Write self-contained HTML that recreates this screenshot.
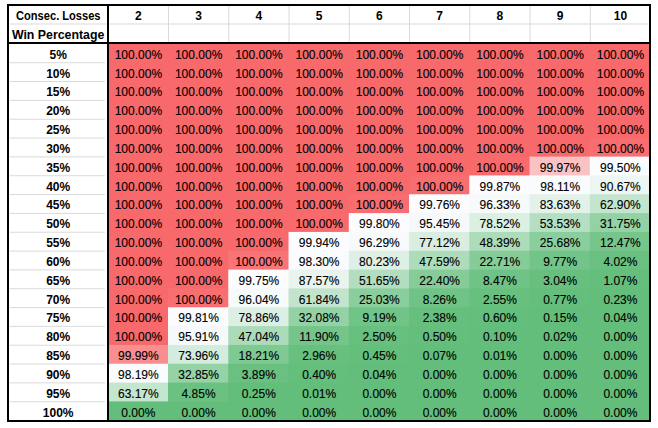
<!DOCTYPE html><html><head><meta charset="utf-8"><style>html,body{margin:0;padding:0;background:#fff;width:658px;height:428px;overflow:hidden}svg{display:block}text{font-family:"Liberation Sans",sans-serif}</style></head><body>
<svg width="658" height="428" viewBox="0 0 658 428">
<rect x="0" y="0" width="658" height="428" fill="#fff"/>
<rect x="107.74" y="43.60" width="61.26" height="19.83" fill="#F8696B"/>
<rect x="168.00" y="43.60" width="61.26" height="19.83" fill="#F8696B"/>
<rect x="228.26" y="43.60" width="61.26" height="19.83" fill="#F8696B"/>
<rect x="288.52" y="43.60" width="61.26" height="19.83" fill="#F8696B"/>
<rect x="348.78" y="43.60" width="61.26" height="19.83" fill="#F8696B"/>
<rect x="409.04" y="43.60" width="61.26" height="19.83" fill="#F8696B"/>
<rect x="469.30" y="43.60" width="61.26" height="19.83" fill="#F8696B"/>
<rect x="529.56" y="43.60" width="61.26" height="19.83" fill="#F8696B"/>
<rect x="589.82" y="43.60" width="60.26" height="19.83" fill="#F8696B"/>
<rect x="107.74" y="62.43" width="61.26" height="19.83" fill="#F8696B"/>
<rect x="168.00" y="62.43" width="61.26" height="19.83" fill="#F8696B"/>
<rect x="228.26" y="62.43" width="61.26" height="19.83" fill="#F8696B"/>
<rect x="288.52" y="62.43" width="61.26" height="19.83" fill="#F8696B"/>
<rect x="348.78" y="62.43" width="61.26" height="19.83" fill="#F8696B"/>
<rect x="409.04" y="62.43" width="61.26" height="19.83" fill="#F8696B"/>
<rect x="469.30" y="62.43" width="61.26" height="19.83" fill="#F8696B"/>
<rect x="529.56" y="62.43" width="61.26" height="19.83" fill="#F8696B"/>
<rect x="589.82" y="62.43" width="60.26" height="19.83" fill="#F8696B"/>
<rect x="107.74" y="81.27" width="61.26" height="19.83" fill="#F8696B"/>
<rect x="168.00" y="81.27" width="61.26" height="19.83" fill="#F8696B"/>
<rect x="228.26" y="81.27" width="61.26" height="19.83" fill="#F8696B"/>
<rect x="288.52" y="81.27" width="61.26" height="19.83" fill="#F8696B"/>
<rect x="348.78" y="81.27" width="61.26" height="19.83" fill="#F8696B"/>
<rect x="409.04" y="81.27" width="61.26" height="19.83" fill="#F8696B"/>
<rect x="469.30" y="81.27" width="61.26" height="19.83" fill="#F8696B"/>
<rect x="529.56" y="81.27" width="61.26" height="19.83" fill="#F8696B"/>
<rect x="589.82" y="81.27" width="60.26" height="19.83" fill="#F8696B"/>
<rect x="107.74" y="100.10" width="61.26" height="19.83" fill="#F8696B"/>
<rect x="168.00" y="100.10" width="61.26" height="19.83" fill="#F8696B"/>
<rect x="228.26" y="100.10" width="61.26" height="19.83" fill="#F8696B"/>
<rect x="288.52" y="100.10" width="61.26" height="19.83" fill="#F8696B"/>
<rect x="348.78" y="100.10" width="61.26" height="19.83" fill="#F8696B"/>
<rect x="409.04" y="100.10" width="61.26" height="19.83" fill="#F8696B"/>
<rect x="469.30" y="100.10" width="61.26" height="19.83" fill="#F8696B"/>
<rect x="529.56" y="100.10" width="61.26" height="19.83" fill="#F8696B"/>
<rect x="589.82" y="100.10" width="60.26" height="19.83" fill="#F8696B"/>
<rect x="107.74" y="118.93" width="61.26" height="19.83" fill="#F8696B"/>
<rect x="168.00" y="118.93" width="61.26" height="19.83" fill="#F8696B"/>
<rect x="228.26" y="118.93" width="61.26" height="19.83" fill="#F8696B"/>
<rect x="288.52" y="118.93" width="61.26" height="19.83" fill="#F8696B"/>
<rect x="348.78" y="118.93" width="61.26" height="19.83" fill="#F8696B"/>
<rect x="409.04" y="118.93" width="61.26" height="19.83" fill="#F8696B"/>
<rect x="469.30" y="118.93" width="61.26" height="19.83" fill="#F8696B"/>
<rect x="529.56" y="118.93" width="61.26" height="19.83" fill="#F8696B"/>
<rect x="589.82" y="118.93" width="60.26" height="19.83" fill="#F8696B"/>
<rect x="107.74" y="137.76" width="61.26" height="19.83" fill="#F8696B"/>
<rect x="168.00" y="137.76" width="61.26" height="19.83" fill="#F8696B"/>
<rect x="228.26" y="137.76" width="61.26" height="19.83" fill="#F8696B"/>
<rect x="288.52" y="137.76" width="61.26" height="19.83" fill="#F8696B"/>
<rect x="348.78" y="137.76" width="61.26" height="19.83" fill="#F8696B"/>
<rect x="409.04" y="137.76" width="61.26" height="19.83" fill="#F8696B"/>
<rect x="469.30" y="137.76" width="61.26" height="19.83" fill="#F8696B"/>
<rect x="529.56" y="137.76" width="61.26" height="19.83" fill="#F8696B"/>
<rect x="589.82" y="137.76" width="60.26" height="19.83" fill="#F86D6F"/>
<rect x="107.74" y="156.60" width="61.26" height="19.83" fill="#F8696B"/>
<rect x="168.00" y="156.60" width="61.26" height="19.83" fill="#F8696B"/>
<rect x="228.26" y="156.60" width="61.26" height="19.83" fill="#F8696B"/>
<rect x="288.52" y="156.60" width="61.26" height="19.83" fill="#F8696B"/>
<rect x="348.78" y="156.60" width="61.26" height="19.83" fill="#F8696B"/>
<rect x="409.04" y="156.60" width="61.26" height="19.83" fill="#F8696B"/>
<rect x="469.30" y="156.60" width="61.26" height="19.83" fill="#F86A6C"/>
<rect x="529.56" y="156.60" width="61.26" height="19.83" fill="#FAC2C5"/>
<rect x="589.82" y="156.60" width="60.26" height="19.83" fill="#FBFCFE"/>
<rect x="107.74" y="175.43" width="61.26" height="19.83" fill="#F8696B"/>
<rect x="168.00" y="175.43" width="61.26" height="19.83" fill="#F8696B"/>
<rect x="228.26" y="175.43" width="61.26" height="19.83" fill="#F8696B"/>
<rect x="288.52" y="175.43" width="61.26" height="19.83" fill="#F8696B"/>
<rect x="348.78" y="175.43" width="61.26" height="19.83" fill="#F8696B"/>
<rect x="409.04" y="175.43" width="61.26" height="19.83" fill="#F86E70"/>
<rect x="469.30" y="175.43" width="61.26" height="19.83" fill="#FCFCFF"/>
<rect x="529.56" y="175.43" width="61.26" height="19.83" fill="#F9FBFD"/>
<rect x="589.82" y="175.43" width="60.26" height="19.83" fill="#EEF6F3"/>
<rect x="107.74" y="194.26" width="61.26" height="19.83" fill="#F8696B"/>
<rect x="168.00" y="194.26" width="61.26" height="19.83" fill="#F8696B"/>
<rect x="228.26" y="194.26" width="61.26" height="19.83" fill="#F8696B"/>
<rect x="288.52" y="194.26" width="61.26" height="19.83" fill="#F8696B"/>
<rect x="348.78" y="194.26" width="61.26" height="19.83" fill="#F86E70"/>
<rect x="409.04" y="194.26" width="61.26" height="19.83" fill="#FCFCFF"/>
<rect x="469.30" y="194.26" width="61.26" height="19.83" fill="#F6FAFA"/>
<rect x="529.56" y="194.26" width="61.26" height="19.83" fill="#E3F2E9"/>
<rect x="589.82" y="194.26" width="60.26" height="19.83" fill="#C3E5CE"/>
<rect x="107.74" y="213.10" width="61.26" height="19.83" fill="#F8696B"/>
<rect x="168.00" y="213.10" width="61.26" height="19.83" fill="#F8696B"/>
<rect x="228.26" y="213.10" width="61.26" height="19.83" fill="#F8696B"/>
<rect x="288.52" y="213.10" width="61.26" height="19.83" fill="#F86A6C"/>
<rect x="348.78" y="213.10" width="61.26" height="19.83" fill="#FCFCFF"/>
<rect x="409.04" y="213.10" width="61.26" height="19.83" fill="#F5F9F9"/>
<rect x="469.30" y="213.10" width="61.26" height="19.83" fill="#DBEFE3"/>
<rect x="529.56" y="213.10" width="61.26" height="19.83" fill="#B5DFC2"/>
<rect x="589.82" y="213.10" width="60.26" height="19.83" fill="#94D2A5"/>
<rect x="107.74" y="231.93" width="61.26" height="19.83" fill="#F8696B"/>
<rect x="168.00" y="231.93" width="61.26" height="19.83" fill="#F8696B"/>
<rect x="228.26" y="231.93" width="61.26" height="19.83" fill="#F8696B"/>
<rect x="288.52" y="231.93" width="61.26" height="19.83" fill="#FCFCFF"/>
<rect x="348.78" y="231.93" width="61.26" height="19.83" fill="#F6FAFA"/>
<rect x="409.04" y="231.93" width="61.26" height="19.83" fill="#D9EEE1"/>
<rect x="469.30" y="231.93" width="61.26" height="19.83" fill="#ADDCBB"/>
<rect x="529.56" y="231.93" width="61.26" height="19.83" fill="#8ACE9D"/>
<rect x="589.82" y="231.93" width="60.26" height="19.83" fill="#76C68B"/>
<rect x="107.74" y="250.76" width="61.26" height="19.83" fill="#F8696B"/>
<rect x="168.00" y="250.76" width="61.26" height="19.83" fill="#F8696B"/>
<rect x="228.26" y="250.76" width="61.26" height="19.83" fill="#F87476"/>
<rect x="288.52" y="250.76" width="61.26" height="19.83" fill="#F9FBFD"/>
<rect x="348.78" y="250.76" width="61.26" height="19.83" fill="#DEF0E5"/>
<rect x="409.04" y="250.76" width="61.26" height="19.83" fill="#ACDCBA"/>
<rect x="469.30" y="250.76" width="61.26" height="19.83" fill="#86CC99"/>
<rect x="529.56" y="250.76" width="61.26" height="19.83" fill="#72C488"/>
<rect x="589.82" y="250.76" width="60.26" height="19.83" fill="#69C080"/>
<rect x="107.74" y="269.60" width="61.26" height="19.83" fill="#F8696B"/>
<rect x="168.00" y="269.60" width="61.26" height="19.83" fill="#F8696B"/>
<rect x="228.26" y="269.60" width="61.26" height="19.83" fill="#FCFCFF"/>
<rect x="288.52" y="269.60" width="61.26" height="19.83" fill="#E9F4EF"/>
<rect x="348.78" y="269.60" width="61.26" height="19.83" fill="#B2DEBF"/>
<rect x="409.04" y="269.60" width="61.26" height="19.83" fill="#85CC99"/>
<rect x="469.30" y="269.60" width="61.26" height="19.83" fill="#70C386"/>
<rect x="529.56" y="269.60" width="61.26" height="19.83" fill="#68C07F"/>
<rect x="589.82" y="269.60" width="60.26" height="19.83" fill="#65BF7C"/>
<rect x="107.74" y="288.43" width="61.26" height="19.83" fill="#F8696B"/>
<rect x="168.00" y="288.43" width="61.26" height="19.83" fill="#F86F71"/>
<rect x="228.26" y="288.43" width="61.26" height="19.83" fill="#F6FAFA"/>
<rect x="288.52" y="288.43" width="61.26" height="19.83" fill="#C2E4CD"/>
<rect x="348.78" y="288.43" width="61.26" height="19.83" fill="#89CE9C"/>
<rect x="409.04" y="288.43" width="61.26" height="19.83" fill="#70C386"/>
<rect x="469.30" y="288.43" width="61.26" height="19.83" fill="#67C07E"/>
<rect x="529.56" y="288.43" width="61.26" height="19.83" fill="#64BE7C"/>
<rect x="589.82" y="288.43" width="60.26" height="19.83" fill="#63BE7B"/>
<rect x="107.74" y="307.26" width="61.26" height="19.83" fill="#F8696B"/>
<rect x="168.00" y="307.26" width="61.26" height="19.83" fill="#FCFCFF"/>
<rect x="228.26" y="307.26" width="61.26" height="19.83" fill="#DCEFE3"/>
<rect x="288.52" y="307.26" width="61.26" height="19.83" fill="#94D2A5"/>
<rect x="348.78" y="307.26" width="61.26" height="19.83" fill="#71C487"/>
<rect x="409.04" y="307.26" width="61.26" height="19.83" fill="#67BF7E"/>
<rect x="469.30" y="307.26" width="61.26" height="19.83" fill="#64BE7C"/>
<rect x="529.56" y="307.26" width="61.26" height="19.83" fill="#63BE7B"/>
<rect x="589.82" y="307.26" width="60.26" height="19.83" fill="#63BE7B"/>
<rect x="107.74" y="326.09" width="61.26" height="19.83" fill="#F8696B"/>
<rect x="168.00" y="326.09" width="61.26" height="19.83" fill="#F6F9FA"/>
<rect x="228.26" y="326.09" width="61.26" height="19.83" fill="#ABDBB9"/>
<rect x="288.52" y="326.09" width="61.26" height="19.83" fill="#75C58B"/>
<rect x="348.78" y="326.09" width="61.26" height="19.83" fill="#67C07E"/>
<rect x="409.04" y="326.09" width="61.26" height="19.83" fill="#64BE7C"/>
<rect x="469.30" y="326.09" width="61.26" height="19.83" fill="#63BE7B"/>
<rect x="529.56" y="326.09" width="61.26" height="19.83" fill="#63BE7B"/>
<rect x="589.82" y="326.09" width="60.26" height="19.83" fill="#63BE7B"/>
<rect x="107.74" y="344.93" width="61.26" height="19.83" fill="#F98E90"/>
<rect x="168.00" y="344.93" width="61.26" height="19.83" fill="#D4ECDD"/>
<rect x="228.26" y="344.93" width="61.26" height="19.83" fill="#7FC993"/>
<rect x="288.52" y="344.93" width="61.26" height="19.83" fill="#68C07F"/>
<rect x="348.78" y="344.93" width="61.26" height="19.83" fill="#64BE7C"/>
<rect x="409.04" y="344.93" width="61.26" height="19.83" fill="#63BE7B"/>
<rect x="469.30" y="344.93" width="61.26" height="19.83" fill="#63BE7B"/>
<rect x="529.56" y="344.93" width="61.26" height="19.83" fill="#63BE7B"/>
<rect x="589.82" y="344.93" width="60.26" height="19.83" fill="#63BE7B"/>
<rect x="107.74" y="363.76" width="61.26" height="19.83" fill="#F9FBFD"/>
<rect x="168.00" y="363.76" width="61.26" height="19.83" fill="#95D2A6"/>
<rect x="228.26" y="363.76" width="61.26" height="19.83" fill="#69C080"/>
<rect x="288.52" y="363.76" width="61.26" height="19.83" fill="#64BE7C"/>
<rect x="348.78" y="363.76" width="61.26" height="19.83" fill="#63BE7B"/>
<rect x="409.04" y="363.76" width="61.26" height="19.83" fill="#63BE7B"/>
<rect x="469.30" y="363.76" width="61.26" height="19.83" fill="#63BE7B"/>
<rect x="529.56" y="363.76" width="61.26" height="19.83" fill="#63BE7B"/>
<rect x="589.82" y="363.76" width="60.26" height="19.83" fill="#63BE7B"/>
<rect x="107.74" y="382.59" width="61.26" height="19.83" fill="#C4E5CE"/>
<rect x="168.00" y="382.59" width="61.26" height="19.83" fill="#6AC181"/>
<rect x="228.26" y="382.59" width="61.26" height="19.83" fill="#63BE7B"/>
<rect x="288.52" y="382.59" width="61.26" height="19.83" fill="#63BE7B"/>
<rect x="348.78" y="382.59" width="61.26" height="19.83" fill="#63BE7B"/>
<rect x="409.04" y="382.59" width="61.26" height="19.83" fill="#63BE7B"/>
<rect x="469.30" y="382.59" width="61.26" height="19.83" fill="#63BE7B"/>
<rect x="529.56" y="382.59" width="61.26" height="19.83" fill="#63BE7B"/>
<rect x="589.82" y="382.59" width="60.26" height="19.83" fill="#63BE7B"/>
<rect x="107.74" y="401.43" width="61.26" height="18.83" fill="#63BE7B"/>
<rect x="168.00" y="401.43" width="61.26" height="18.83" fill="#63BE7B"/>
<rect x="228.26" y="401.43" width="61.26" height="18.83" fill="#63BE7B"/>
<rect x="288.52" y="401.43" width="61.26" height="18.83" fill="#63BE7B"/>
<rect x="348.78" y="401.43" width="61.26" height="18.83" fill="#63BE7B"/>
<rect x="409.04" y="401.43" width="61.26" height="18.83" fill="#63BE7B"/>
<rect x="469.30" y="401.43" width="61.26" height="18.83" fill="#63BE7B"/>
<rect x="529.56" y="401.43" width="61.26" height="18.83" fill="#63BE7B"/>
<rect x="589.82" y="401.43" width="60.26" height="18.83" fill="#63BE7B"/>
<rect x="9.6" y="62.23" width="95.2" height="1" fill="#DADADA"/>
<rect x="9.6" y="81.07" width="95.2" height="1" fill="#DADADA"/>
<rect x="9.6" y="99.90" width="95.2" height="1" fill="#DADADA"/>
<rect x="9.6" y="118.73" width="95.2" height="1" fill="#DADADA"/>
<rect x="9.6" y="137.56" width="95.2" height="1" fill="#DADADA"/>
<rect x="9.6" y="156.40" width="95.2" height="1" fill="#DADADA"/>
<rect x="9.6" y="175.23" width="95.2" height="1" fill="#DADADA"/>
<rect x="9.6" y="194.06" width="95.2" height="1" fill="#DADADA"/>
<rect x="9.6" y="212.90" width="95.2" height="1" fill="#DADADA"/>
<rect x="9.6" y="231.73" width="95.2" height="1" fill="#DADADA"/>
<rect x="9.6" y="250.56" width="95.2" height="1" fill="#DADADA"/>
<rect x="9.6" y="269.40" width="95.2" height="1" fill="#DADADA"/>
<rect x="9.6" y="288.23" width="95.2" height="1" fill="#DADADA"/>
<rect x="9.6" y="307.06" width="95.2" height="1" fill="#DADADA"/>
<rect x="9.6" y="325.89" width="95.2" height="1" fill="#DADADA"/>
<rect x="9.6" y="344.73" width="95.2" height="1" fill="#DADADA"/>
<rect x="9.6" y="363.56" width="95.2" height="1" fill="#DADADA"/>
<rect x="9.6" y="382.39" width="95.2" height="1" fill="#DADADA"/>
<rect x="9.6" y="401.23" width="95.2" height="1" fill="#DADADA"/>
<rect x="9.6" y="23.5" width="639" height="1" fill="#DADADA"/>
<rect x="168.00" y="6" width="1" height="36" fill="#DADADA"/>
<rect x="228.26" y="6" width="1" height="36" fill="#DADADA"/>
<rect x="288.52" y="6" width="1" height="36" fill="#DADADA"/>
<rect x="348.78" y="6" width="1" height="36" fill="#DADADA"/>
<rect x="409.04" y="6" width="1" height="36" fill="#DADADA"/>
<rect x="469.30" y="6" width="1" height="36" fill="#DADADA"/>
<rect x="529.56" y="6" width="1" height="36" fill="#DADADA"/>
<rect x="589.82" y="6" width="1" height="36" fill="#DADADA"/>
<rect x="7" y="4" width="644" height="2" fill="#000"/>
<rect x="7" y="420" width="644" height="2" fill="#000"/>
<rect x="7" y="4" width="2" height="418" fill="#000"/>
<rect x="649" y="4" width="2" height="418" fill="#000"/>
<rect x="107" y="4" width="2" height="418" fill="#000"/>
<rect x="7" y="42" width="644" height="2" fill="#000"/>
<g font-weight="bold" font-size="12" fill="#000" text-anchor="middle">
<text x="58.3" y="20.0" textLength="84.5" lengthAdjust="spacingAndGlyphs">Consec. Losses</text>
<text x="58.15" y="38.9" textLength="92.5" lengthAdjust="spacingAndGlyphs">Win Percentage</text>
<text x="138.37" y="20.0">2</text>
<text x="198.63" y="20.0">3</text>
<text x="258.89" y="20.0">4</text>
<text x="319.15" y="20.0">5</text>
<text x="379.41" y="20.0">6</text>
<text x="439.67" y="20.0">7</text>
<text x="499.93" y="20.0">8</text>
<text x="560.19" y="20.0">9</text>
<text x="620.45" y="20.0">10</text>
<text x="58.2" y="58.80">5%</text>
<text x="58.2" y="77.63">10%</text>
<text x="58.2" y="96.47">15%</text>
<text x="58.2" y="115.30">20%</text>
<text x="58.2" y="134.13">25%</text>
<text x="58.2" y="152.96">30%</text>
<text x="58.2" y="171.80">35%</text>
<text x="58.2" y="190.63">40%</text>
<text x="58.2" y="209.46">45%</text>
<text x="58.2" y="228.30">50%</text>
<text x="58.2" y="247.13">55%</text>
<text x="58.2" y="265.96">60%</text>
<text x="58.2" y="284.80">65%</text>
<text x="58.2" y="303.63">70%</text>
<text x="58.2" y="322.46">75%</text>
<text x="58.2" y="341.30">80%</text>
<text x="58.2" y="360.13">85%</text>
<text x="58.2" y="378.96">90%</text>
<text x="58.2" y="397.79">95%</text>
<text x="58.2" y="416.63">100%</text>
</g>
<g font-size="12" fill="#000" stroke="#000" stroke-width="0.12" text-anchor="middle">
<text x="138.37" y="58.80">100.00%</text>
<text x="198.63" y="58.80">100.00%</text>
<text x="258.89" y="58.80">100.00%</text>
<text x="319.15" y="58.80">100.00%</text>
<text x="379.41" y="58.80">100.00%</text>
<text x="439.67" y="58.80">100.00%</text>
<text x="499.93" y="58.80">100.00%</text>
<text x="560.19" y="58.80">100.00%</text>
<text x="620.45" y="58.80">100.00%</text>
<text x="138.37" y="77.63">100.00%</text>
<text x="198.63" y="77.63">100.00%</text>
<text x="258.89" y="77.63">100.00%</text>
<text x="319.15" y="77.63">100.00%</text>
<text x="379.41" y="77.63">100.00%</text>
<text x="439.67" y="77.63">100.00%</text>
<text x="499.93" y="77.63">100.00%</text>
<text x="560.19" y="77.63">100.00%</text>
<text x="620.45" y="77.63">100.00%</text>
<text x="138.37" y="96.47">100.00%</text>
<text x="198.63" y="96.47">100.00%</text>
<text x="258.89" y="96.47">100.00%</text>
<text x="319.15" y="96.47">100.00%</text>
<text x="379.41" y="96.47">100.00%</text>
<text x="439.67" y="96.47">100.00%</text>
<text x="499.93" y="96.47">100.00%</text>
<text x="560.19" y="96.47">100.00%</text>
<text x="620.45" y="96.47">100.00%</text>
<text x="138.37" y="115.30">100.00%</text>
<text x="198.63" y="115.30">100.00%</text>
<text x="258.89" y="115.30">100.00%</text>
<text x="319.15" y="115.30">100.00%</text>
<text x="379.41" y="115.30">100.00%</text>
<text x="439.67" y="115.30">100.00%</text>
<text x="499.93" y="115.30">100.00%</text>
<text x="560.19" y="115.30">100.00%</text>
<text x="620.45" y="115.30">100.00%</text>
<text x="138.37" y="134.13">100.00%</text>
<text x="198.63" y="134.13">100.00%</text>
<text x="258.89" y="134.13">100.00%</text>
<text x="319.15" y="134.13">100.00%</text>
<text x="379.41" y="134.13">100.00%</text>
<text x="439.67" y="134.13">100.00%</text>
<text x="499.93" y="134.13">100.00%</text>
<text x="560.19" y="134.13">100.00%</text>
<text x="620.45" y="134.13">100.00%</text>
<text x="138.37" y="152.96">100.00%</text>
<text x="198.63" y="152.96">100.00%</text>
<text x="258.89" y="152.96">100.00%</text>
<text x="319.15" y="152.96">100.00%</text>
<text x="379.41" y="152.96">100.00%</text>
<text x="439.67" y="152.96">100.00%</text>
<text x="499.93" y="152.96">100.00%</text>
<text x="560.19" y="152.96">100.00%</text>
<text x="620.45" y="152.96">100.00%</text>
<text x="138.37" y="171.80">100.00%</text>
<text x="198.63" y="171.80">100.00%</text>
<text x="258.89" y="171.80">100.00%</text>
<text x="319.15" y="171.80">100.00%</text>
<text x="379.41" y="171.80">100.00%</text>
<text x="439.67" y="171.80">100.00%</text>
<text x="499.93" y="171.80">100.00%</text>
<text x="560.19" y="171.80">99.97%</text>
<text x="620.45" y="171.80">99.50%</text>
<text x="138.37" y="190.63">100.00%</text>
<text x="198.63" y="190.63">100.00%</text>
<text x="258.89" y="190.63">100.00%</text>
<text x="319.15" y="190.63">100.00%</text>
<text x="379.41" y="190.63">100.00%</text>
<text x="439.67" y="190.63">100.00%</text>
<text x="499.93" y="190.63">99.87%</text>
<text x="560.19" y="190.63">98.11%</text>
<text x="620.45" y="190.63">90.67%</text>
<text x="138.37" y="209.46">100.00%</text>
<text x="198.63" y="209.46">100.00%</text>
<text x="258.89" y="209.46">100.00%</text>
<text x="319.15" y="209.46">100.00%</text>
<text x="379.41" y="209.46">100.00%</text>
<text x="439.67" y="209.46">99.76%</text>
<text x="499.93" y="209.46">96.33%</text>
<text x="560.19" y="209.46">83.63%</text>
<text x="620.45" y="209.46">62.90%</text>
<text x="138.37" y="228.30">100.00%</text>
<text x="198.63" y="228.30">100.00%</text>
<text x="258.89" y="228.30">100.00%</text>
<text x="319.15" y="228.30">100.00%</text>
<text x="379.41" y="228.30">99.80%</text>
<text x="439.67" y="228.30">95.45%</text>
<text x="499.93" y="228.30">78.52%</text>
<text x="560.19" y="228.30">53.53%</text>
<text x="620.45" y="228.30">31.75%</text>
<text x="138.37" y="247.13">100.00%</text>
<text x="198.63" y="247.13">100.00%</text>
<text x="258.89" y="247.13">100.00%</text>
<text x="319.15" y="247.13">99.94%</text>
<text x="379.41" y="247.13">96.29%</text>
<text x="439.67" y="247.13">77.12%</text>
<text x="499.93" y="247.13">48.39%</text>
<text x="560.19" y="247.13">25.68%</text>
<text x="620.45" y="247.13">12.47%</text>
<text x="138.37" y="265.96">100.00%</text>
<text x="198.63" y="265.96">100.00%</text>
<text x="258.89" y="265.96">100.00%</text>
<text x="319.15" y="265.96">98.30%</text>
<text x="379.41" y="265.96">80.23%</text>
<text x="439.67" y="265.96">47.59%</text>
<text x="499.93" y="265.96">22.71%</text>
<text x="560.19" y="265.96">9.77%</text>
<text x="620.45" y="265.96">4.02%</text>
<text x="138.37" y="284.80">100.00%</text>
<text x="198.63" y="284.80">100.00%</text>
<text x="258.89" y="284.80">99.75%</text>
<text x="319.15" y="284.80">87.57%</text>
<text x="379.41" y="284.80">51.65%</text>
<text x="439.67" y="284.80">22.40%</text>
<text x="499.93" y="284.80">8.47%</text>
<text x="560.19" y="284.80">3.04%</text>
<text x="620.45" y="284.80">1.07%</text>
<text x="138.37" y="303.63">100.00%</text>
<text x="198.63" y="303.63">100.00%</text>
<text x="258.89" y="303.63">96.04%</text>
<text x="319.15" y="303.63">61.84%</text>
<text x="379.41" y="303.63">25.03%</text>
<text x="439.67" y="303.63">8.26%</text>
<text x="499.93" y="303.63">2.55%</text>
<text x="560.19" y="303.63">0.77%</text>
<text x="620.45" y="303.63">0.23%</text>
<text x="138.37" y="322.46">100.00%</text>
<text x="198.63" y="322.46">99.81%</text>
<text x="258.89" y="322.46">78.86%</text>
<text x="319.15" y="322.46">32.08%</text>
<text x="379.41" y="322.46">9.19%</text>
<text x="439.67" y="322.46">2.38%</text>
<text x="499.93" y="322.46">0.60%</text>
<text x="560.19" y="322.46">0.15%</text>
<text x="620.45" y="322.46">0.04%</text>
<text x="138.37" y="341.30">100.00%</text>
<text x="198.63" y="341.30">95.91%</text>
<text x="258.89" y="341.30">47.04%</text>
<text x="319.15" y="341.30">11.90%</text>
<text x="379.41" y="341.30">2.50%</text>
<text x="439.67" y="341.30">0.50%</text>
<text x="499.93" y="341.30">0.10%</text>
<text x="560.19" y="341.30">0.02%</text>
<text x="620.45" y="341.30">0.00%</text>
<text x="138.37" y="360.13">99.99%</text>
<text x="198.63" y="360.13">73.96%</text>
<text x="258.89" y="360.13">18.21%</text>
<text x="319.15" y="360.13">2.96%</text>
<text x="379.41" y="360.13">0.45%</text>
<text x="439.67" y="360.13">0.07%</text>
<text x="499.93" y="360.13">0.01%</text>
<text x="560.19" y="360.13">0.00%</text>
<text x="620.45" y="360.13">0.00%</text>
<text x="138.37" y="378.96">98.19%</text>
<text x="198.63" y="378.96">32.85%</text>
<text x="258.89" y="378.96">3.89%</text>
<text x="319.15" y="378.96">0.40%</text>
<text x="379.41" y="378.96">0.04%</text>
<text x="439.67" y="378.96">0.00%</text>
<text x="499.93" y="378.96">0.00%</text>
<text x="560.19" y="378.96">0.00%</text>
<text x="620.45" y="378.96">0.00%</text>
<text x="138.37" y="397.79">63.17%</text>
<text x="198.63" y="397.79">4.85%</text>
<text x="258.89" y="397.79">0.25%</text>
<text x="319.15" y="397.79">0.01%</text>
<text x="379.41" y="397.79">0.00%</text>
<text x="439.67" y="397.79">0.00%</text>
<text x="499.93" y="397.79">0.00%</text>
<text x="560.19" y="397.79">0.00%</text>
<text x="620.45" y="397.79">0.00%</text>
<text x="138.37" y="416.63">0.00%</text>
<text x="198.63" y="416.63">0.00%</text>
<text x="258.89" y="416.63">0.00%</text>
<text x="319.15" y="416.63">0.00%</text>
<text x="379.41" y="416.63">0.00%</text>
<text x="439.67" y="416.63">0.00%</text>
<text x="499.93" y="416.63">0.00%</text>
<text x="560.19" y="416.63">0.00%</text>
<text x="620.45" y="416.63">0.00%</text>
</g>
</svg></body></html>
